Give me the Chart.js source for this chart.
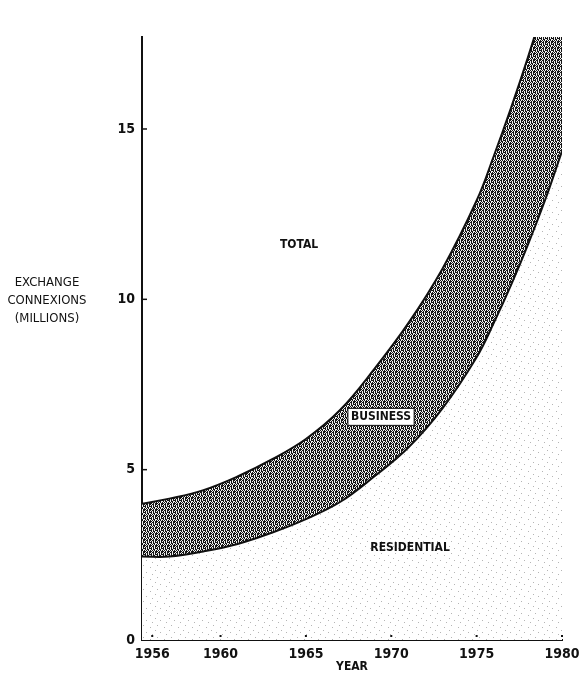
<!DOCTYPE html>
<html>
<head>
<meta charset="utf-8">
<script src="https://cdn.jsdelivr.net/npm/chart.js@4/dist/chart.umd.min.js"></script>
<style>
  body { margin: 0; background: #fff; }
  #wrap { width: 579px; height: 674px; position: relative; }
</style>
</head>
<body>
<div id="wrap"><canvas id="chart"></canvas></div>
<script>
// values (millions of exchange connexions)
const years = [1955.4, 1957, 1959, 1961, 1963, 1965, 1967, 1969, 1971, 1973, 1975, 1976, 1977, 1978, 1979, 1980];
const residential = [2.45, 2.45, 2.6, 2.82, 3.15, 3.55, 4.05, 4.8, 5.65, 6.8, 8.3, 9.3, 10.4, 11.6, 12.9, 14.35];
const total = [4.0, 4.15, 4.4, 4.8, 5.3, 5.9, 6.75, 7.95, 9.3, 10.9, 12.9, 14.2, 15.6, 17.1, 18.7, 20.3];
const xTicks = [1956, 1960, 1965, 1970, 1975, 1980];
const yTicks = [0, 5, 10, 15];

const FONT = '"DejaVu Sans Condensed", "Liberation Sans Narrow", sans-serif';

// halftone for the business band
function makePattern(rows, dark, light) {
  const c = document.createElement("canvas");
  c.width = rows[0].length; c.height = rows.length;
  const g = c.getContext("2d");
  g.fillStyle = light; g.fillRect(0, 0, c.width, c.height);
  g.fillStyle = dark;
  rows.forEach((r, y) => {
    for (let x = 0; x < r.length; x++) if (r[x] === "X") g.fillRect(x, y, 1, 1);
  });
  return g.createPattern(c, "repeat");
}
const bandPattern = makePattern([
  "X.XX.X",
  ".X.X.X",
  "XX.X.X",
  ".X.XX.",
  "X.X.X.",
  "XX.X.X"
], "#151515", "#f0f0f0");
const dotPattern = makePattern([
  "..............",
  "...X..........",
  "..............",
  "..........X...",
  "..............",
  "..............",
  ".X............",
  "..............",
  "......X.......",
  "..............",
  "............X.",
  ".............."
], "#b5b5b5", "#fff");

const ticksAndText = {
  id: "ticksAndText",
  afterDatasetsDraw(ch) {
    const ctx = ch.ctx, x = ch.scales.x, y = ch.scales.y, a = ch.chartArea;
    ctx.save();
    ctx.fillStyle = "#111"; ctx.strokeStyle = "#111";
    // inward ticks on y axis
    ctx.lineWidth = 1.5;
    yTicks.forEach(v => {
      if (v === 0) return;
      const py = y.getPixelForValue(v);
      ctx.beginPath(); ctx.moveTo(a.left, py); ctx.lineTo(a.left + 5, py); ctx.stroke();
    });
    // dot ticks on x axis
    xTicks.forEach(v => {
      const px = x.getPixelForValue(v);
      ctx.fillRect(px - 1, a.bottom - 5, 2, 2);
    });
    // y axis title
    ctx.textAlign = "center"; ctx.textBaseline = "middle";
    ctx.font = "13px " + FONT;
    ["EXCHANGE", "CONNEXIONS", "(MILLIONS)"].forEach((t, i) => {
      ctx.fillText(t, 47, 283 + i * 18);
    });
    // area labels
    ctx.font = "bold 12px " + FONT;
    ctx.fillText("TOTAL", x.getPixelForValue(1964.6), y.getPixelForValue(11.6));
    ctx.fillText("RESIDENTIAL", x.getPixelForValue(1971.1), y.getPixelForValue(2.7));
    const bx = x.getPixelForValue(1969.4), by = y.getPixelForValue(6.55);
    const w = ctx.measureText("BUSINESS").width + 6;
    ctx.fillStyle = "#fff";
    ctx.fillRect(bx - w / 2, by - 8.5, w, 17);
    ctx.lineWidth = 1; ctx.strokeRect(bx - w / 2, by - 8.5, w, 17);
    ctx.fillStyle = "#111";
    ctx.fillText("BUSINESS", bx, by + 0.5);
    ctx.restore();
  }
};

new Chart(document.getElementById("chart"), {
  type: "line",
  data: {
    datasets: [
      {
        label: "Residential",
        data: years.map((yr, i) => ({ x: yr, y: residential[i] })),
        borderColor: "#111", borderWidth: 2, pointRadius: 0,
        backgroundColor: dotPattern, fill: "origin",
        tension: 0.4
      },
      {
        label: "Total",
        data: years.map((yr, i) => ({ x: yr, y: total[i] })),
        borderColor: "#111", borderWidth: 2, pointRadius: 0,
        backgroundColor: bandPattern, fill: "-1",
        tension: 0.4
      }
    ]
  },
  options: {
    responsive: true,
    maintainAspectRatio: false,
    animation: false,
    layout: { padding: { top: 37, right: 17, left: 0, bottom: 0 } },
    plugins: { legend: { display: false }, tooltip: { enabled: false } },
    scales: {
      x: {
        type: "linear", min: 1955.4, max: 1980,
        afterBuildTicks: s => { s.ticks = xTicks.map(v => ({ value: v })); },
        afterFit: s => { s.height = 34; s.paddingLeft = 0; s.paddingRight = 0; },
        grid: { display: false, drawTicks: false },
        border: { display: true, color: "#111", width: 2 },
        ticks: { color: "#111", padding: 6, maxRotation: 0, font: { family: FONT, size: 14, weight: "bold" }, callback: v => String(v) },
        title: { display: true, text: "YEAR", color: "#111", padding: 0, font: { family: FONT, size: 12, weight: "bold" } }
      },
      y: {
        min: 0, max: 17.7,
        afterBuildTicks: s => { s.ticks = yTicks.map(v => ({ value: v })); },
        afterFit: s => { s.width = 142; s.paddingTop = 0; s.paddingBottom = 0; },
        grid: { display: false, drawTicks: false },
        border: { display: true, color: "#111", width: 2 },
        ticks: { color: "#111", padding: 7, font: { family: FONT, size: 14, weight: "bold" } }
      }
    }
  },
  plugins: [ticksAndText]
});
</script>
</body>
</html>
